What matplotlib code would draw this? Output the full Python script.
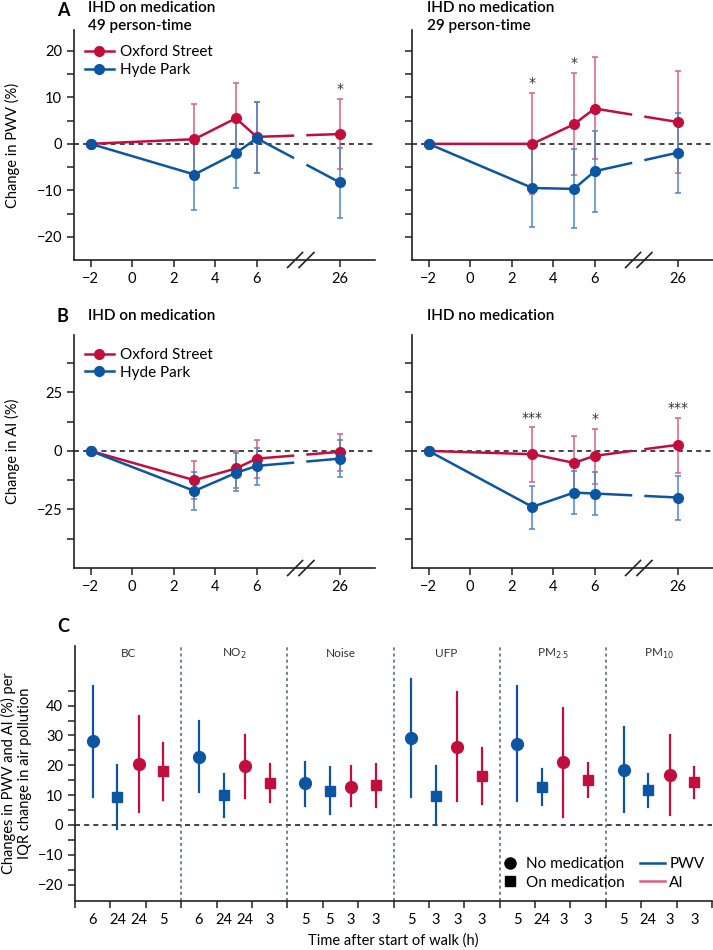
import matplotlib
matplotlib.use("Agg")
import matplotlib.pyplot as plt
from matplotlib.lines import Line2D
from matplotlib.transforms import blended_transform_factory
import numpy as np

plt.rcParams['font.family'] = ['Lato', 'DejaVu Sans']
plt.rcParams['font.size'] = 10.5

RED = '#c20e3d'
BLUE = '#0c55a3'
RED_ERR = '#d9607e'
BLUE_ERR = '#4f86c6'

# time points (h) and tick labels for panels A and B
times = [-2, 3, 5, 6, 26]
time_ticks = [-2, 0, 2, 4, 6, 26]

# Panel A, on medication (PWV %)
a_med_ox = [0, 1.0, 5.5, 1.5, 2.1]
a_med_ox_lo = [0, -6.6, -2.1, -6.2, -5.5]
a_med_ox_hi = [0, 8.6, 13.1, 9.0, 9.7]
a_med_hp = [0, -6.6, -2.0, 1.2, -8.3]
a_med_hp_lo = [0, -14.3, -9.5, -6.3, -16.0]
a_med_hp_hi = [0, 1.1, 5.4, 8.9, -0.9]
a_med_stars = {26: '*'}

# Panel A, no medication
a_nomed_ox = [0, 0.0, 4.2, 7.6, 4.7]
a_nomed_ox_lo = [0, -10.8, -6.7, -3.3, -6.3]
a_nomed_ox_hi = [0, 11.0, 15.2, 18.6, 15.6]
a_nomed_hp = [0, -9.5, -9.7, -5.9, -1.9]
a_nomed_hp_lo = [0, -18.0, -18.2, -14.6, -10.6]
a_nomed_hp_hi = [0, -0.7, -1.1, 2.7, 6.7]
a_nomed_stars = {3: '*', 5: '*'}

# Panel B, on medication (AI %)
b_med_ox = [0, -12.5, -7.5, -3.3, -0.4]
b_med_ox_lo = [0, -20.4, -15.7, -11.4, -8.7]
b_med_ox_hi = [0, -4.4, 0.0, 4.6, 7.4]
b_med_hp = [0, -17.1, -9.4, -6.4, -3.3]
b_med_hp_lo = [0, -25.1, -17.2, -14.4, -11.1]
b_med_hp_hi = [0, -9.0, -1.1, 1.4, 4.8]
b_med_stars = {}

# Panel B, no medication
b_nomed_ox = [0, -1.4, -5.1, -2.1, 2.6]
b_nomed_ox_lo = [0, -13.2, -16.6, -14.0, -9.3]
b_nomed_ox_hi = [0, 10.0, 6.4, 9.3, 14.2]
b_nomed_hp = [0, -23.9, -17.8, -18.2, -19.9]
b_nomed_hp_lo = [0, -33.2, -27.1, -27.5, -29.3]
b_nomed_hp_hi = [0, -14.8, -8.4, -9.0, -10.7]
b_nomed_stars = {3: '***', 6: '*', 26: '***'}

# Panel C: per pollutant -> PWV no med, PWV on med, AI no med, AI on med
pollutants = ['BC', 'NO$_2$', 'Noise', 'UFP', 'PM$_{2·5}$', 'PM$_{10}$']
c_hours = [[6, 24, 24, 5], [6, 24, 24, 3], [5, 5, 3, 3],
           [5, 3, 3, 3], [5, 24, 3, 3], [5, 24, 3, 3]]
c_est = [[28.0, 9.3, 20.3, 18.1], [22.9, 9.9, 19.7, 14.1], [13.9, 11.4, 12.8, 13.4],
         [29.2, 9.7, 26.3, 16.4], [27.3, 12.8, 21.0, 15.1], [18.4, 11.7, 16.8, 14.3]]
c_lo = [[9.5, -1.3, 4.2, 8.5], [11.1, 2.8, 8.9, 7.6], [6.5, 3.7, 6.3, 6.1],
        [9.3, 0.0, 7.9, 7.0], [7.9, 6.8, 2.8, 9.3], [4.2, 6.1, 3.5, 9.1]]
c_hi = [[46.7, 20.1, 36.6, 27.5], [35.0, 17.1, 30.2, 20.6], [21.2, 19.3, 19.6, 20.4],
        [48.9, 19.6, 44.7, 25.8], [46.5, 18.8, 39.2, 20.8], [32.7, 17.1, 30.2, 19.4]]
c_measure = ['PWV', 'PWV', 'AI', 'AI']
c_med = ['no', 'on', 'no', 'on']

def tpos(t):
    # 26 h sits after the axis break
    return t if t <= 6 else 10

def style_axes(ax):
    for s in ['top', 'right']:
        ax.spines[s].set_visible(False)
    for s in ['left', 'bottom']:
        ax.spines[s].set_linewidth(1.2)
        ax.spines[s].set_color('#222222')
    ax.tick_params(direction='out', length=5, width=1.1, color='#222222')

def time_panel(ax, ox, ox_lo, ox_hi, hp, hp_lo, hp_hi, stars, ylim, yticks, ylabels, show_ylabels):
    style_axes(ax)
    x = np.array([tpos(t) for t in times], dtype=float)
    ax.axhline(0, color='#222222', ls=(0, (3, 2.5)), lw=1.2, zorder=1)
    for vals, lo, hi, col, ecol in [(ox, ox_lo, ox_hi, RED, RED_ERR), (hp, hp_lo, hp_hi, BLUE, BLUE_ERR)]:
        vals = np.array(vals)
        err = [vals[1:] - np.array(lo[1:]), np.array(hi[1:]) - vals[1:]]
        ax.errorbar(x[1:], vals[1:], yerr=err, fmt='none', ecolor=ecol, elinewidth=1.1,
                    capsize=2.5, capthick=1.1, zorder=2)
        ax.plot(x[:4], vals[:4], color=col, lw=1.8, zorder=3)
        g0, g1 = 7.75, 8.45
        ax.plot([x[3], g0], [vals[3], np.interp(g0, x[3:], vals[3:])], color=col, lw=1.8, zorder=3)
        ax.plot([g1, x[4]], [np.interp(g1, x[3:], vals[3:]), vals[4]], color=col, lw=1.8, zorder=3)
        ax.plot(x, vals, 'o', color=col, ms=7, zorder=4)
    for t, s in stars.items():
        i = times.index(t)
        top = max(ox_hi[i], hp_hi[i])
        ax.text(tpos(t), top + (ylim[1] - ylim[0]) * 0.012, s, ha='center', va='bottom', fontsize=10,
                color='#333333', family='DejaVu Sans')
    ax.set_xlim(-2.8, 11.7)
    ax.set_ylim(*ylim)
    ax.set_xticks([tpos(t) for t in time_ticks])
    ax.set_xticklabels([str(t).replace('-', '−') for t in time_ticks])
    ax.set_yticks(yticks)
    ax.set_yticklabels(ylabels if show_ylabels else [])
    # axis break marks
    tr = blended_transform_factory(ax.transData, ax.transAxes)
    dy = 7.5 / (ax.get_position().height * 950)
    for xc in [7.85, 8.4]:
        ax.plot([xc - 0.36, xc + 0.36], [-dy, dy], color='#222222', lw=1.2, transform=tr, clip_on=False, zorder=5)

fig = plt.figure(figsize=(7.13, 9.5), dpi=100)

W, H = 713.0, 950.0
def axes_px(left, top, right, bottom):
    return fig.add_axes([left / W, 1 - bottom / H, (right - left) / W, (bottom - top) / H])

a_ticks = np.arange(-20, 21, 5)
a_labels = [str(v).replace('-', '−') if v % 10 == 0 else '' for v in a_ticks]
b_ticks = np.arange(-37.5, 38, 12.5)
b_labels = ['−25' if v == -25 else (str(int(v)) if v in (0, 25) else '') for v in b_ticks]

axA1 = axes_px(74, 30, 375, 260)
axA2 = axes_px(412, 30, 713, 260)
axB1 = axes_px(74, 335, 375, 568)
axB2 = axes_px(412, 335, 713, 568)

time_panel(axA1, a_med_ox, a_med_ox_lo, a_med_ox_hi, a_med_hp, a_med_hp_lo, a_med_hp_hi,
           a_med_stars, (-25, 24.5), a_ticks, a_labels, True)
time_panel(axA2, a_nomed_ox, a_nomed_ox_lo, a_nomed_ox_hi, a_nomed_hp, a_nomed_hp_lo, a_nomed_hp_hi,
           a_nomed_stars, (-25, 24.5), a_ticks, a_labels, False)
time_panel(axB1, b_med_ox, b_med_ox_lo, b_med_ox_hi, b_med_hp, b_med_hp_lo, b_med_hp_hi,
           b_med_stars, (-50, 49.5), b_ticks, b_labels, True)
time_panel(axB2, b_nomed_ox, b_nomed_ox_lo, b_nomed_ox_hi, b_nomed_hp, b_nomed_hp_lo, b_nomed_hp_hi,
           b_nomed_stars, (-50, 49.5), b_ticks, b_labels, False)

axA1.set_ylabel('Change in PWV (%)', labelpad=12)
axB1.set_ylabel('Change in AI (%)', labelpad=12)

for ax in [axA1, axB1]:
    h = [Line2D([], [], color=RED, lw=1.8, marker='o', ms=7),
         Line2D([], [], color=BLUE, lw=1.8, marker='o', ms=7)]
    ax.legend(h, ['Oxford Street', 'Hyde Park'], loc='upper left', bbox_to_anchor=(0.0, 0.98 if ax is axA1 else 0.99),
              frameon=False, handlelength=1.9, handletextpad=0.4, labelspacing=0.25, borderaxespad=0.3, fontsize=11)

fig.text(57 / W, 1 - 10 / H, 'A', fontsize=13, fontweight='bold', va='center')
fig.text(88 / W, 1 - 1 / H, 'IHD on medication\n49 person-time', fontsize=11, fontweight='semibold', va='top',
         linespacing=1.35)
fig.text(427 / W, 1 - 1 / H, 'IHD no medication\n29 person-time', fontsize=11, fontweight='semibold', va='top',
         linespacing=1.35)
fig.text(57 / W, 1 - 316 / H, 'B', fontsize=13, fontweight='bold', va='center')
fig.text(88 / W, 1 - 316 / H, 'IHD on medication', fontsize=11, fontweight='semibold', va='center')
fig.text(427 / W, 1 - 316 / H, 'IHD no medication', fontsize=11, fontweight='semibold', va='center')
fig.text(57 / W, 1 - 627 / H, 'C', fontsize=13, fontweight='bold', va='center')

# Panel C
axC = axes_px(75, 646, 712, 901)
style_axes(axC)
offsets = [0.5, 1.2, 1.8, 2.5]
axC.axhline(0, color='#222222', ls=(0, (3, 2.5)), lw=1.2, zorder=1)
for g in range(1, len(pollutants)):
    axC.axvline(3 * g, color='#4a6478', ls=(0, (2, 2)), lw=1.1, zorder=1)
label_pos, label_txt = [], []
for g, name in enumerate(pollutants):
    axC.text(3 * g + 1.5, 57.5, name, ha='center', va='center', fontsize=8.5, color='#333333')
    for k in range(4):
        xp = 3 * g + offsets[k]
        col = BLUE if c_measure[k] == 'PWV' else RED
        mk = 'o' if c_med[k] == 'no' else 's'
        axC.plot([xp, xp], [c_lo[g][k], c_hi[g][k]], color=col, lw=1.6, zorder=2)
        axC.plot(xp, c_est[g][k], marker=mk, color=col, ms=8.5 if mk == 'o' else 7, zorder=3, ls='none')
        label_pos.append(xp)
        label_txt.append(str(c_hours[g][k]))
axC.set_xlim(0, 18)
axC.set_ylim(-25.5, 60)
axC.set_xticks(np.arange(0, 19, 1))
axC.set_xticklabels([])
axC.set_xticks(label_pos, minor=True)
axC.set_xticklabels(label_txt, minor=True)
axC.tick_params(axis='x', which='minor', length=0, pad=9)
yt = np.arange(-20, 46, 5)
axC.set_yticks(yt)
axC.set_yticklabels([str(v).replace('-', '−') if v % 10 == 0 else '' for v in yt])
axC.set_xlabel('Time after start of walk (h)', labelpad=4)
axC.set_ylabel('Changes in PWV and AI (%) per\nIQR change in air pollution', labelpad=4)

hc = [Line2D([], [], color='black', marker='o', ls='none', ms=8),
      Line2D([], [], color='black', marker='s', ls='none', ms=7),
      Line2D([], [], color=BLUE, lw=1.8),
      Line2D([], [], color=RED_ERR, lw=1.8)]
axC.legend(hc, ['No medication', 'On medication', 'PWV', 'AI'], ncol=2, loc='lower right',
           bbox_to_anchor=(1.01, -0.01), frameon=False, fontsize=11, handlelength=1.6,
           handletextpad=0.3, columnspacing=1.0, labelspacing=0.3)

fig.savefig('out.png', dpi=100)
